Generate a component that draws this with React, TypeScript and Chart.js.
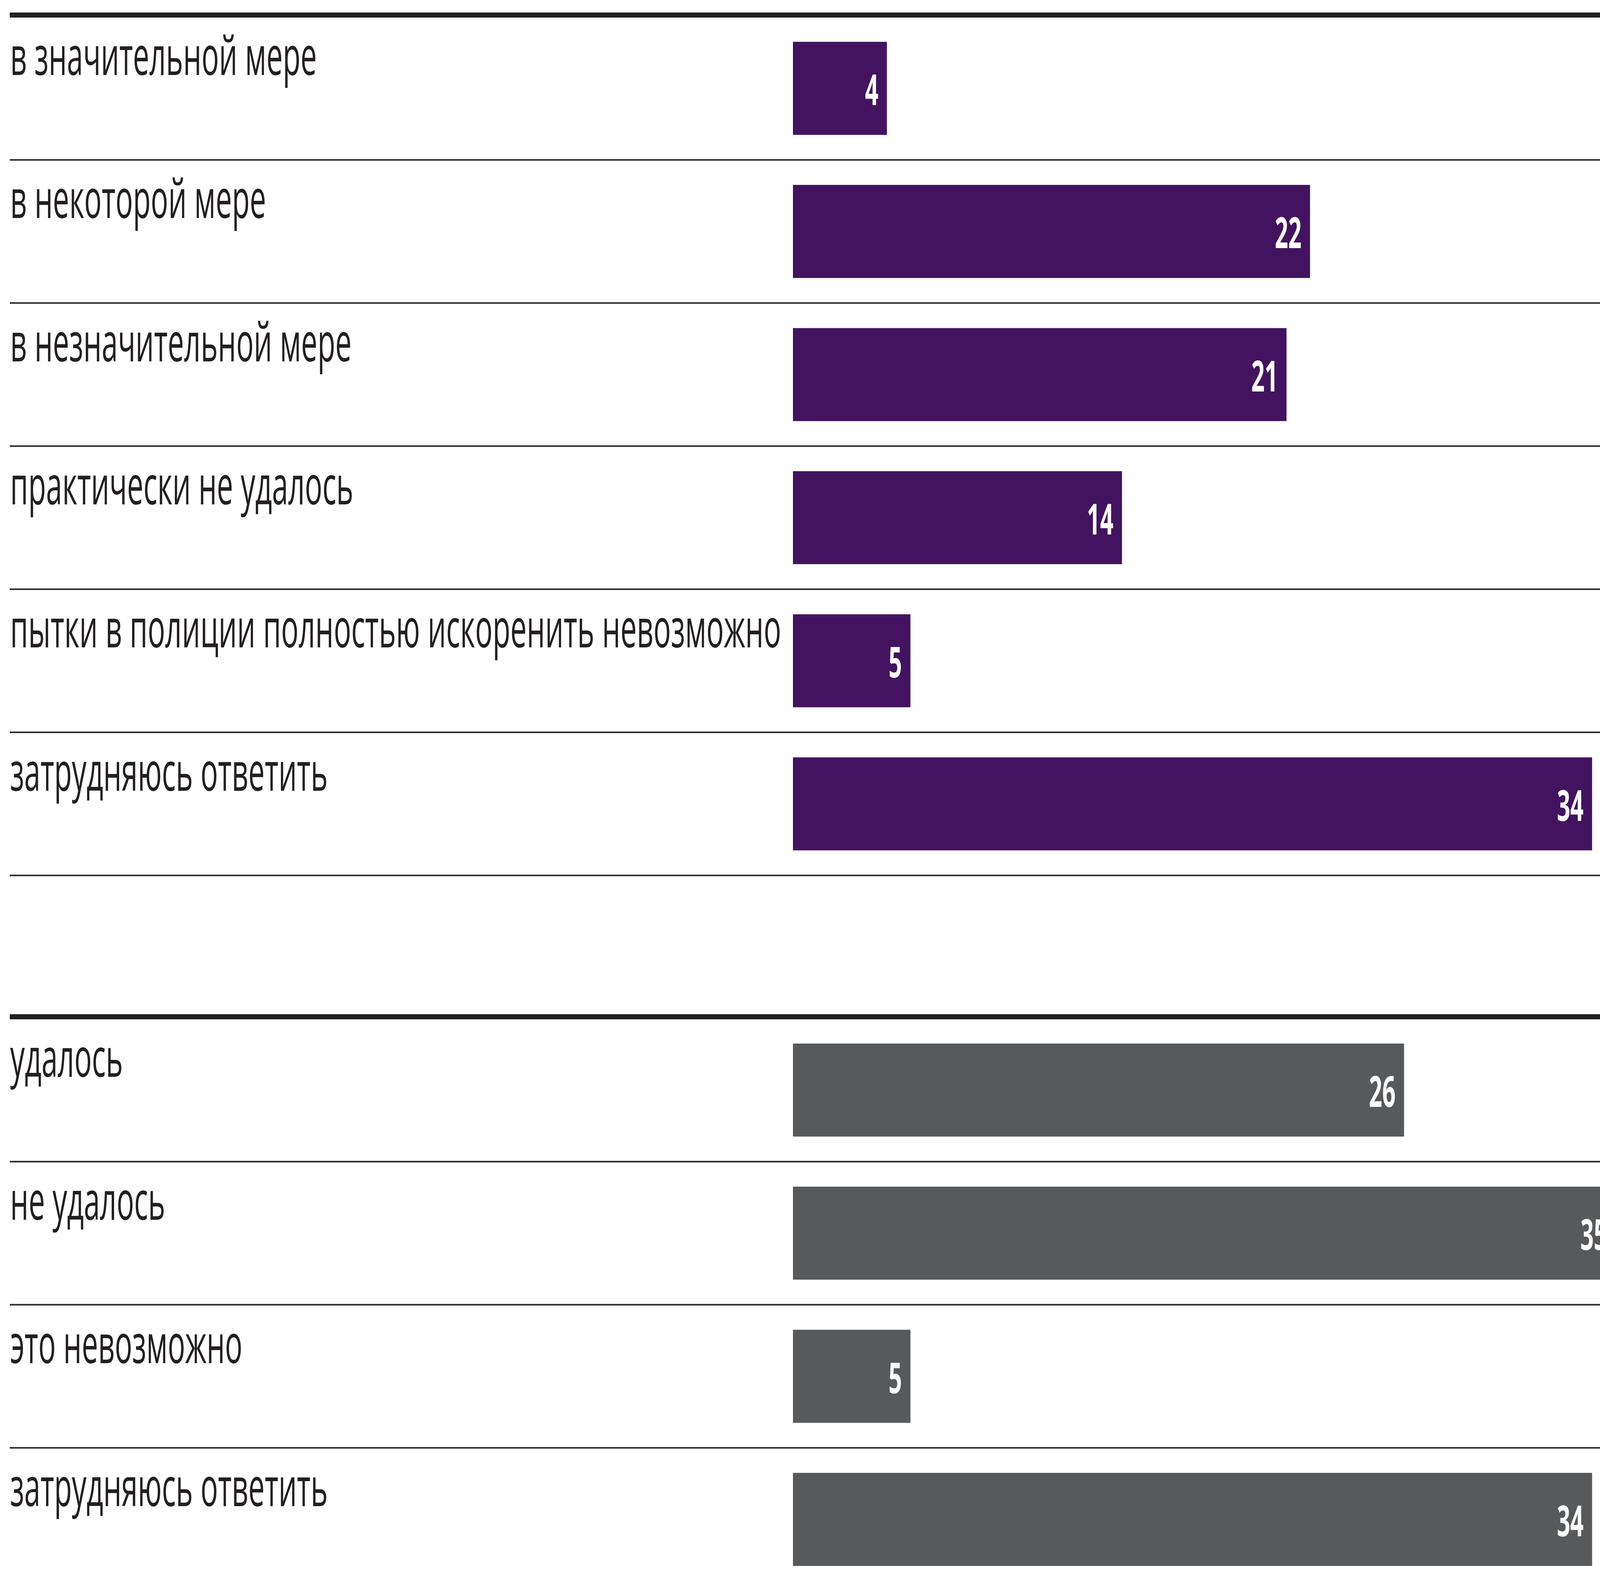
import React, { useEffect, useRef } from "react";
import { Chart, registerables } from "chart.js";

Chart.register(...registerables);

// ---- data ----
const group1Labels = [
  "в значительной мере",
  "в некоторой мере",
  "в незначительной мере",
  "практически не удалось",
  "пытки в полиции полностью искоренить невозможно",
  "затрудняюсь ответить",
];
const group1Values = [4, 22, 21, 14, 5, 34];

const group2Labels = ["удалось", "не удалось", "это невозможно", "затрудняюсь ответить"];
const group2Values = [26, 35, 5, 34];

const group1Color = "#43135f";
const group2Color = "#58595b";

// ---- design layout (in a 7535 x 4044 frame) ----
const DESIGN_W = 7535;
const DESIGN_H = 4044;
const AXIS_LEFT = 3734;
const PX_PER_UNIT = 110.7;
const TOP = 43;
const ROW_H = 366.2;

const labels = [...group1Labels, "", ...group2Labels];
const values: (number | null)[] = [...group1Values, null, ...group2Values];
const colors = [
  ...group1Values.map(() => group1Color),
  "rgba(0,0,0,0)",
  ...group2Values.map(() => group2Color),
];
const groupStarts = [0, group1Labels.length + 1];
const gapIndex = group1Labels.length;

// the plot is cut at the right edge of the frame
const X_MAX = (DESIGN_W - AXIS_LEFT) / PX_PER_UNIT;

function makePlugin(sx: number, sy: number) {
  return {
    id: "tablePlugin",
    afterDatasetsDraw(chart: any) {
      const ctx = chart.ctx as CanvasRenderingContext2D;
      const y = chart.scales.y;
      const row = y.getPixelForValue(1) - y.getPixelForValue(0);
      const half = row / 2;
      const lineLeft = 46 * sx;
      const lineRight = chart.width;
      ctx.save();
      labels.forEach((_, i) => {
        const c = y.getPixelForValue(i);
        if (groupStarts.includes(i)) {
          ctx.fillStyle = "#231f20";
          ctx.fillRect(lineLeft, c - half - 11 * sy, lineRight - lineLeft, 13 * sy);
        }
        if (i !== gapIndex) {
          ctx.fillStyle = "#2b2b2b";
          ctx.fillRect(lineLeft, c + half - 2 * sy, lineRight - lineLeft, Math.max(1, 4 * sy));
        }
      });
      ctx.fillStyle = "#231f20";
      ctx.font = '137px "Open Sans"';
      ctx.textAlign = "left";
      ctx.textBaseline = "alphabetic";
      labels.forEach((lab, i) => {
        if (!lab) return;
        const c = y.getPixelForValue(i);
        ctx.save();
        ctx.translate(48 * sx, c - 34 * sy);
        ctx.scale(sx, sy);
        ctx.fillText(lab, 0, 0);
        ctx.restore();
      });
      const meta = chart.getDatasetMeta(0);
      ctx.fillStyle = "#ffffff";
      ctx.font = 'bold 110px "Open Sans"';
      ctx.textAlign = "right";
      meta.data.forEach((el: any, i: number) => {
        const v = values[i];
        if (v == null) return;
        ctx.save();
        ctx.translate(el.x - 40 * sx, el.y + 43 * sy);
        ctx.scale(sx, sy);
        ctx.fillText(String(v), 0, 0);
        ctx.restore();
      });
      ctx.restore();
    },
  };
}

export default function App() {
  const ref = useRef<HTMLCanvasElement | null>(null);
  const W = typeof window !== "undefined" ? window.innerWidth || DESIGN_W : DESIGN_W;
  const H = typeof window !== "undefined" ? window.innerHeight || DESIGN_H : DESIGN_H;
  const sx = W / DESIGN_W;
  const sy = H / DESIGN_H;
  const canvasH = Math.ceil((TOP + ROW_H * labels.length) * sy);

  useEffect(() => {
    const canvas = ref.current;
    if (!canvas) return;
    const chart = new Chart(canvas, {
      type: "bar",
      data: {
        labels,
        datasets: [
          {
            data: values,
            backgroundColor: colors,
            borderWidth: 0,
            barPercentage: 0.65,
            categoryPercentage: 1,
          },
        ],
      },
      options: {
        indexAxis: "y",
        animation: false,
        responsive: false,
        devicePixelRatio: 1,
        layout: { padding: { left: AXIS_LEFT * sx, top: TOP * sy, right: 0, bottom: 0 } },
        scales: {
          x: { type: "linear", min: 0, max: X_MAX, display: false },
          y: { type: "category", display: false, offset: true, grid: { display: false } },
        },
        plugins: { legend: { display: false }, tooltip: { enabled: false } },
      },
      plugins: [makePlugin(sx, sy)],
    });
    return () => chart.destroy();
  }, [sx, sy]);

  return (
    <div
      style={{
        position: "fixed",
        left: 0,
        top: 0,
        width: W,
        height: H,
        overflow: "hidden",
        background: "#ffffff",
      }}
    >
      <canvas
        ref={ref}
        width={W}
        height={canvasH}
        style={{ width: W, height: canvasH, display: "block" }}
      />
    </div>
  );
}
